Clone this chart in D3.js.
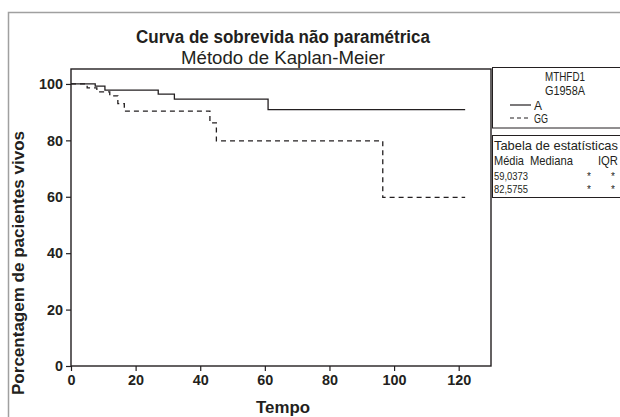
<!DOCTYPE html>
<html>
<head>
<meta charset="utf-8">
<script src="https://cdn.jsdelivr.net/npm/d3@7"></script>
<style>
  body { margin: 0; background: #fff; }
  svg text { font-family: "Liberation Sans", Arial, sans-serif; fill: #231f20; }
</style>
</head>
<body>
<div id="chart"></div>
<script>
// survival steps: [tempo, percent]
var seriesNames = ["A", "GG"];
var survA = [[0, 100], [7.5, 99.2], [10.5, 97.8], [27, 96.4], [32, 94.6], [61, 90.9], [122, 90.9]];
var survGG = [[0, 100], [5, 98.6], [8, 97.2], [12, 95.8], [14.5, 93.0], [16.5, 90.4], [43, 86.2], [45, 79.8], [96.5, 59.8], [122, 59.8]];
var xTicks = [0, 20, 40, 60, 80, 100, 120];
var yTicks = [0, 20, 40, 60, 80, 100];
var statHeader = ["Média", "Mediana", "IQR"];
var statMeans = ["59,0373", "82,5755"];

var width = 620, height = 417;

var svg = d3.select("#chart").append("svg")
    .attr("width", width)
    .attr("height", height);

// the original font is a condensed gothic, so squeeze the text to its width
function label(xp, yp, str, size, len, opts) {
  opts = opts || {};
  var t = svg.append("text")
      .attr("x", xp).attr("y", yp)
      .attr("text-anchor", opts.anchor || "start")
      .style("font-size", size + "px")
      .style("font-weight", opts.bold ? "bold" : "normal")
      .text(str);
  if (len) t.attr("textLength", len).attr("lengthAdjust", "spacingAndGlyphs");
  if (opts.fill) t.attr("fill", opts.fill);
  return t;
}

// outer gray frame
svg.append("path")
    .attr("d", "M8.5,417 V12.5 H620")
    .attr("fill", "none")
    .attr("stroke", "#a0a0a0")
    .attr("stroke-width", 1.5);

// scales
var x = d3.scaleLinear().domain([0, 130]).range([71, 491]);
var y = d3.scaleLinear().domain([0, 105.3]).range([366, 69]);

// plot frame
svg.append("rect")
    .attr("x", x(0))
    .attr("y", y(105.3))
    .attr("width", x(130) - x(0))
    .attr("height", y(0) - y(105.3))
    .attr("fill", "none")
    .attr("stroke", "#231f20")
    .attr("stroke-width", 1.4);

// axes
var xAxis = svg.append("g")
    .attr("transform", "translate(0," + y(0) + ")")
    .call(d3.axisBottom(x).tickValues(xTicks).tickSize(5).tickPadding(3));
var yAxis = svg.append("g")
    .attr("transform", "translate(" + x(0) + ",0)")
    .call(d3.axisLeft(y).tickValues(yTicks).tickSize(5).tickPadding(3));
[xAxis, yAxis].forEach(function(g) {
  g.select(".domain").remove();
  g.selectAll("line").attr("stroke", "#231f20").attr("stroke-width", 1.2);
  g.selectAll("text")
      .style("font-family", "'Liberation Sans', Arial, sans-serif")
      .style("font-size", "15px").style("font-weight", "bold").attr("fill", "#231f20")
      .attr("textLength", function(d) { return String(d).length * 8; })
      .attr("lengthAdjust", "spacingAndGlyphs");
});

// curves
var line = d3.line()
    .x(function(d) { return x(d[0]); })
    .y(function(d) { return y(d[1]); })
    .curve(d3.curveStepAfter);

svg.append("path")
    .datum(survA)
    .attr("d", line)
    .attr("fill", "none")
    .attr("stroke", "#231f20")
    .attr("stroke-width", 1.3);

svg.append("path")
    .datum(survGG)
    .attr("d", line)
    .attr("fill", "none")
    .attr("stroke", "#231f20")
    .attr("stroke-width", 1.3)
    .attr("stroke-dasharray", "5,4");

// titles
label(283, 43, "Curva de sobrevida não paramétrica", 17.5, 294, {anchor: "middle", bold: true});
label(283, 64, "Método de Kaplan-Meier", 17.5, 204, {anchor: "middle"});
label(283, 413, "Tempo", 16.5, 54, {anchor: "middle", bold: true});
label(0, 0, "Porcentagem de pacientes vivos", 16.5, 264, {anchor: "middle", bold: true})
    .attr("transform", "translate(24,263) rotate(-90)");

// legend box
svg.append("rect")
    .attr("x", 492.5).attr("y", 67.5)
    .attr("width", 140).attr("height", 60.5)
    .attr("fill", "none").attr("stroke", "#231f20").attr("stroke-width", 1);
label(545, 81, "MTHFD1", 13, 40);
label(545, 95, "G1958A", 13, 40);
var legendLen = [8, 14];
seriesNames.forEach(function(name, i) {
  var ly = 105 + i * 13;
  svg.append("line")
      .attr("x1", 510).attr("x2", 531)
      .attr("y1", ly).attr("y2", ly)
      .attr("stroke", "#231f20").attr("stroke-width", 1.2)
      .attr("stroke-dasharray", i === 1 ? "4,3" : null);
  label(534, ly + 4.5, name, 12.5, legendLen[i]);
});

// stats table box
svg.append("rect")
    .attr("x", 492.5).attr("y", 135.5)
    .attr("width", 140).attr("height", 62)
    .attr("fill", "none").attr("stroke", "#231f20").attr("stroke-width", 1);
label(494, 150, "Tabela de estatísticas", 13, 124);
var headX = [494, 530, 618];
var headLen = [30, 43, 20];
statHeader.forEach(function(h, i) {
  label(headX[i], 165, h, 13, headLen[i], {anchor: i === 2 ? "end" : "start"});
});
statMeans.forEach(function(m, i) {
  var ry = 179.5 + i * 13.5;
  label(494, ry, m, 11.5, 34);
  label(589, ry, "*", 10, null, {anchor: "middle", fill: "#8a8a8a"});
  label(613, ry, "*", 10, null, {anchor: "middle", fill: "#8a8a8a"});
});
</script>
</body>
</html>
